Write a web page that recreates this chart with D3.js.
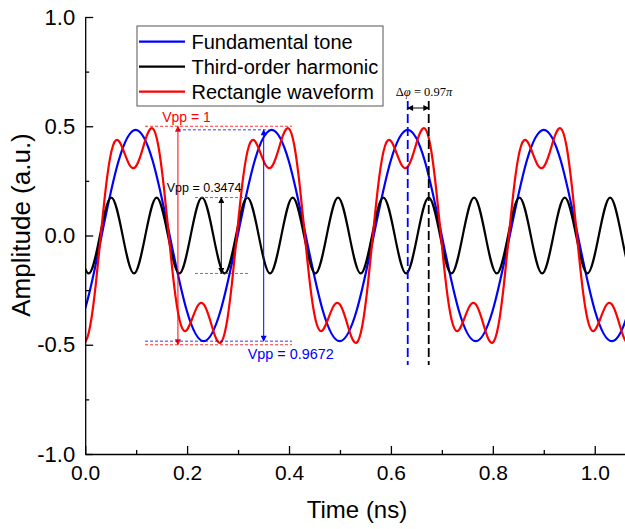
<!DOCTYPE html>
<html lang="en">
<head>
<meta charset="UTF-8">
<title>Waveforms</title>
<script src="https://cdn.jsdelivr.net/npm/d3@7"></script>
<style>
    body { margin: 0; background: #fff; }
    text { font-family: Arial, "Liberation Sans", sans-serif; fill: #000; }
</style>
</head>
<body>
<script>

    // legend names
    var seriesNames = ["Fundamental tone", "Third-order harmonic", "Rectangle waveform"];

    // fundamental tone: peaks, half points, zero crossings (ns, a.u.)
    var blueT = [-0.0345, -0.0011, 0.0323, 0.0656, 0.0990, 0.1324, 0.1658, 0.1991, 0.2325, 0.2659,
                 0.2993, 0.3326, 0.3660, 0.3994, 0.4328, 0.4661, 0.4995, 0.5329, 0.5663, 0.5996,
                 0.6330, 0.6664, 0.6998, 0.7331, 0.7665, 0.7999, 0.8333, 0.8666, 0.9000, 0.9334,
                 0.9668, 1.0001, 1.0335, 1.0669, 1.1003];
    var blueV = [-0.4836, -0.342, 0, 0.342, 0.4836, 0.342, 0, -0.342, -0.4836, -0.342,
                 0, 0.342, 0.4836, 0.342, 0, -0.342, -0.4836, -0.342, 0, 0.342,
                 0.4836, 0.342, 0, -0.342, -0.4836, -0.342, 0, 0.342, 0.4836, 0.342,
                 0, -0.342, -0.4836, -0.342, 0];

    // third-order harmonic: peaks, troughs and zero crossings
    var blackT = [-0.0156, 0.0067, 0.0290, 0.0512, 0.0735, 0.0957, 0.1180, 0.1402, 0.1625, 0.1847,
                  0.2070, 0.2292, 0.2515, 0.2737, 0.2960, 0.3182, 0.3405, 0.3627, 0.3850, 0.4072,
                  0.4295, 0.4517, 0.4740, 0.4962, 0.5185, 0.5407, 0.5630, 0.5852, 0.6075, 0.6297,
                  0.6520, 0.6742, 0.6965, 0.7187, 0.7410, 0.7632, 0.7855, 0.8077, 0.8300, 0.8522,
                  0.8745, 0.8967, 0.9190, 0.9412, 0.9635, 0.9857, 1.0080, 1.0302, 1.0525, 1.0747,
                  1.0970, 1.1192];
    var blackV = [0, -0.1737, 0, 0.1737, 0, -0.1737, 0, 0.1737, 0, -0.1737,
                  0, 0.1737, 0, -0.1737, 0, 0.1737, 0, -0.1737, 0, 0.1737,
                  0, -0.1737, 0, 0.1737, 0, -0.1737, 0, 0.1737, 0, -0.1737,
                  0, 0.1737, 0, -0.1737, 0, 0.1737, 0, -0.1737, 0, 0.1737,
                  0, -0.1737, 0, 0.1737, 0, -0.1737, 0, 0.1737, 0, -0.1737,
                  0, 0.1737];

    // rectangle waveform
    var redT = [-0.0234, -0.0123, -0.0011, 0.0100, 0.0211, 0.0323, 0.0434, 0.0545, 0.0656, 0.0768, 0.0879,
                0.0990, 0.1101, 0.1213, 0.1324, 0.1435, 0.1546, 0.1658, 0.1769,
                0.1880, 0.1991, 0.2103, 0.2214, 0.2325, 0.2436, 0.2548, 0.2659,
                0.2770, 0.2881, 0.2993, 0.3104, 0.3215, 0.3326, 0.3438, 0.3549,
                0.3660, 0.3771, 0.3883, 0.3994, 0.4105, 0.4216, 0.4328, 0.4439,
                0.4550, 0.4661, 0.4773, 0.4884, 0.4995, 0.5106, 0.5218, 0.5329,
                0.5440, 0.5551, 0.5663, 0.5774, 0.5885, 0.5996, 0.6108, 0.6219,
                0.6330, 0.6441, 0.6553, 0.6664, 0.6775, 0.6886, 0.6998, 0.7109,
                0.7220, 0.7331, 0.7443, 0.7554, 0.7665, 0.7776, 0.7888, 0.7999,
                0.8110, 0.8221, 0.8333, 0.8444, 0.8555, 0.8666, 0.8778, 0.8889,
                0.9000, 0.9111, 0.9223, 0.9334, 0.9445, 0.9556, 0.9668, 0.9779,
                0.9890, 1.0001, 1.0113, 1.0224, 1.0335, 1.0446, 1.0558, 1.0669,
                1.0780, 1.0891, 1.1003];
    var redV = [-0.3759, -0.4589, -0.4899, -0.4108, -0.2164, 0.0401, 0.2731, 0.4108, 0.4332, 0.3787, 0.3192,
                0.3146, 0.3759, 0.4589, 0.4899, 0.4108, 0.2164, -0.0401, -0.2731,
                -0.4108, -0.4332, -0.3787, -0.3192, -0.3146, -0.3759, -0.4589, -0.4899,
                -0.4108, -0.2164, 0.0401, 0.2731, 0.4108, 0.4332, 0.3787, 0.3192,
                0.3146, 0.3759, 0.4589, 0.4899, 0.4108, 0.2164, -0.0401, -0.2731,
                -0.4108, -0.4332, -0.3787, -0.3192, -0.3146, -0.3759, -0.4589, -0.4899,
                -0.4108, -0.2164, 0.0401, 0.2731, 0.4108, 0.4332, 0.3787, 0.3192,
                0.3146, 0.3759, 0.4589, 0.4899, 0.4108, 0.2164, -0.0401, -0.2731,
                -0.4108, -0.4332, -0.3787, -0.3192, -0.3146, -0.3759, -0.4589, -0.4899,
                -0.4108, -0.2164, 0.0401, 0.2731, 0.4108, 0.4332, 0.3787, 0.3192,
                0.3146, 0.3759, 0.4589, 0.4899, 0.4108, 0.2164, -0.0401, -0.2731,
                -0.4108, -0.4332, -0.3787, -0.3192, -0.3146, -0.3759, -0.4589, -0.4899,
                -0.4108, -0.2164, 0.0401];

    // ticks
    var xTicks = [0, 0.2, 0.4, 0.6, 0.8, 1.0];
    var xTickLabels = ["0.0", "0.2", "0.4", "0.6", "0.8", "1.0"];
    var xMinor = [0.1, 0.3, 0.5, 0.7, 0.9];
    var yTicks = [-1, -0.5, 0, 0.5, 1];
    var yTickLabels = ["-1.0", "-0.5", "0.0", "0.5", "1.0"];
    var yMinor = [-0.75, -0.25, 0.25, 0.75];

    // annotation values
    var vppRed = 1, vppBlue = 0.9672, vppBlack = 0.3474;
    var bluePeakT = 0.633, blackPeakT = 0.6742;

    var width = 625, height = 529;
    var svg = d3.select("body").append("svg")
        .attr("width", width)
        .attr("height", height);

    var x = d3.scaleLinear().domain([0, 1.06]).range([85.2, 625.3]);
    var y = d3.scaleLinear().domain([-1, 1]).range([454, 17]);

    svg.append("clipPath").attr("id", "clip")
        .append("rect")
        .attr("x", x(0)).attr("y", 0)
        .attr("width", width - x(0)).attr("height", y(-1));

    // arrow heads
    var defs = svg.append("defs");
    [["red", "#ff0000"], ["blue", "#0000ff"], ["black", "#000"]].forEach(function (c) {
        defs.append("marker")
            .attr("id", "arr-" + c[0])
            .attr("viewBox", "0 0 10 10")
            .attr("refX", 9).attr("refY", 5)
            .attr("markerUnits", "userSpaceOnUse")
            .attr("markerWidth", 7).attr("markerHeight", 6)
            .attr("orient", "auto-start-reverse")
            .append("path")
            .attr("d", "M0,0 L10,5 L0,10 z")
            .attr("fill", c[1]);
    });

    // curves
    var line = d3.line()
        .x(function (d) { return x(d[0]); })
        .y(function (d) { return y(d[1]); })
        .curve(d3.curveNatural);

    var series = [
        {t: blueT, v: blueV, color: "#0000ff"},
        {t: blackT, v: blackV, color: "#000000"},
        {t: redT, v: redV, color: "#ff0000"}
    ];
    var curves = svg.append("g").attr("clip-path", "url(#clip)");
    series.forEach(function (s) {
        curves.append("path")
            .datum(d3.zip(s.t, s.v))
            .attr("d", line)
            .attr("fill", "none")
            .attr("stroke", s.color)
            .attr("stroke-width", 2.2);
    });

    // axes
    svg.append("g")
        .attr("class", "xaxis")
        .attr("transform", "translate(0," + y(-1) + ")")
        .call(d3.axisBottom(x).tickValues(xTicks)
            .tickFormat(function (d, i) { return xTickLabels[i]; })
            .tickSizeInner(-8).tickSizeOuter(0).tickPadding(11));
    svg.append("g")
        .attr("transform", "translate(0," + y(-1) + ")")
        .call(d3.axisBottom(x).tickValues(xMinor).tickFormat("")
            .tickSizeInner(-4).tickSizeOuter(0))
        .select(".domain").remove();

    svg.append("g")
        .attr("class", "yaxis")
        .attr("transform", "translate(" + x(0) + ",0)")
        .call(d3.axisLeft(y).tickValues(yTicks)
            .tickFormat(function (d, i) { return yTickLabels[i]; })
            .tickSizeInner(-8).tickSizeOuter(0).tickPadding(10));
    svg.append("g")
        .attr("transform", "translate(" + x(0) + ",0)")
        .call(d3.axisLeft(y).tickValues(yMinor).tickFormat("")
            .tickSizeInner(-4).tickSizeOuter(0))
        .select(".domain").remove();

    svg.selectAll(".domain, .tick line").attr("stroke", "#000").attr("stroke-width", 1.3);
    svg.selectAll(".tick text")
        .style("font-family", "Arial, 'Liberation Sans', sans-serif")
        .attr("fill", "#000");
    svg.selectAll(".xaxis .tick text").style("font-size", "21px");
    svg.selectAll(".yaxis .tick text").style("font-size", "22px");

    // axis titles
    svg.append("text")
        .attr("x", 357).attr("y", 510)
        .attr("dy", "0.35em")
        .attr("text-anchor", "middle")
        .style("font-size", "24px")
        .text("Time (ns)");
    svg.append("text")
        .attr("transform", "translate(21,225) rotate(-90)")
        .attr("dy", "0.35em")
        .attr("text-anchor", "middle")
        .style("font-size", "26px")
        .text("Amplitude (a.u.)");

    // legend
    var legend = svg.append("g");
    legend.append("rect")
        .attr("x", 137).attr("y", 26)
        .attr("width", 246).attr("height", 80)
        .attr("fill", "#fff")
        .attr("stroke", "#555")
        .attr("stroke-width", 1);
    seriesNames.forEach(function (name, i) {
        var ly = 41.7 + i * 25;
        legend.append("line")
            .attr("x1", 139).attr("x2", 185)
            .attr("y1", ly).attr("y2", ly)
            .attr("stroke", series[i].color)
            .attr("stroke-width", 2.2);
        legend.append("text")
            .attr("x", 191.5).attr("y", ly)
            .attr("dy", "0.35em")
            .style("font-size", "20px")
            .text(name);
    });

    // Vpp annotations
    var ann = svg.append("g");
    function hdash(t1, t2, v, color) {
        ann.append("line")
            .attr("x1", x(t1)).attr("x2", x(t2))
            .attr("y1", y(v)).attr("y2", y(v))
            .attr("stroke", color)
            .attr("stroke-width", 0.8)
            .attr("stroke-dasharray", "3,2");
    }
    function varrow(t, v1, v2, color, id) {
        ann.append("line")
            .attr("x1", x(t)).attr("x2", x(t))
            .attr("y1", y(v1)).attr("y2", y(v2))
            .attr("stroke", color)
            .attr("stroke-width", 1)
            .attr("marker-start", "url(#arr-" + id + ")")
            .attr("marker-end", "url(#arr-" + id + ")");
    }

    // red: Vpp = 1
    hdash(0.1174, 0.4059, vppRed / 2, "#ff0000");
    hdash(0.1174, 0.4059, -vppRed / 2, "#ff0000");
    varrow(0.182, vppRed / 2, -vppRed / 2, "#ff0000", "red");
    ann.append("text")
        .attr("x", x(0.151)).attr("y", y(0.519))
        .style("font-size", "14px")
        .style("fill", "#ff0000")
        .text("Vpp = " + vppRed);

    // blue: Vpp = 0.9672
    hdash(0.182, 0.36, vppBlue / 2, "#0000ff");
    hdash(0.1174, 0.4059, -vppBlue / 2, "#0000ff");
    varrow(0.3503, vppBlue / 2, -vppBlue / 2, "#0000ff", "blue");
    ann.append("text")
        .attr("x", x(0.319)).attr("y", y(-0.565))
        .style("font-size", "14.4px")
        .style("fill", "#0000ff")
        .text("Vpp = " + vppBlue);

    // black: Vpp = 0.3474
    hdash(0.2155, 0.3235, vppBlack / 2, "#555");
    hdash(0.2155, 0.3235, -vppBlack / 2, "#555");
    varrow(0.2671, vppBlack / 2, -vppBlack / 2, "#000", "black");
    ann.append("text")
        .attr("x", x(0.160)).attr("y", y(0.201))
        .style("font-size", "12.5px")
        .text("Vpp = " + vppBlack);

    // phase difference markers
    [[bluePeakT, "#0000ff"], [blackPeakT, "#000"]].forEach(function (p) {
        ann.append("line")
            .attr("x1", x(p[0])).attr("x2", x(p[0]))
            .attr("y1", y(0.615)).attr("y2", y(-0.593))
            .attr("stroke", p[1])
            .attr("stroke-width", 1.8)
            .attr("stroke-dasharray", "9,4");
    });
    ann.append("line")
        .attr("x1", x(bluePeakT)).attr("x2", x(blackPeakT))
        .attr("y1", y(0.5835)).attr("y2", y(0.5835))
        .attr("stroke", "#000")
        .attr("stroke-width", 1)
        .attr("marker-start", "url(#arr-black)")
        .attr("marker-end", "url(#arr-black)");
    var dphi = ann.append("text")
        .attr("x", x(0.665)).attr("y", y(0.638))
        .attr("text-anchor", "middle")
        .style("font-family", "'Liberation Serif', 'Times New Roman', serif")
        .style("font-size", "12.5px");
    dphi.append("tspan").text("\u0394");
    dphi.append("tspan").style("font-style", "italic").text("\u03c6");
    dphi.append("tspan").text(" = 0.97");
    dphi.append("tspan").style("font-style", "italic").text("\u03c0");

</script>
</body>
</html>
